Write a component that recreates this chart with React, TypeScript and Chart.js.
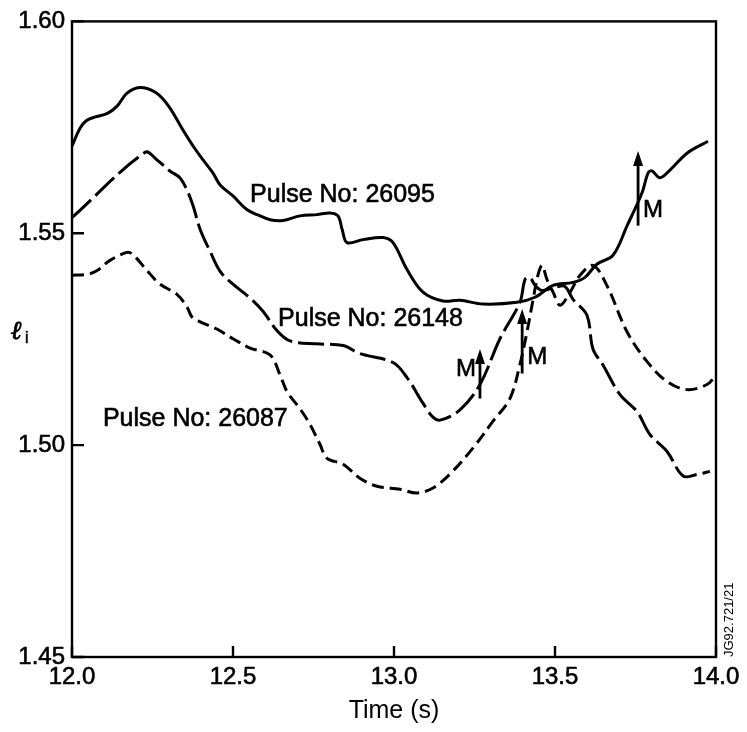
import React, { useEffect, useRef } from "react";
import { Chart, registerables } from "chart.js";

Chart.register(...registerables);

// Internal inductance traces, one pair of arrays per pulse (time in s, value)
const pulse26095Time = [
  12.0, 12.025, 12.045, 12.07, 12.11, 12.14, 12.17, 12.21, 12.26, 12.3, 12.345,
  12.376, 12.407, 12.438, 12.46, 12.5, 12.543, 12.575, 12.615, 12.655, 12.708,
  12.761, 12.801, 12.826, 12.839, 12.854, 12.904, 12.966, 12.997, 13.04, 13.09,
  13.152, 13.205, 13.276, 13.382, 13.438, 13.494, 13.556, 13.593, 13.63, 13.68,
  13.724, 13.77, 13.789, 13.801, 13.826, 13.857, 13.91, 13.975,
];
const pulse26095Li = [
  1.5706, 1.5748, 1.5766, 1.5774, 1.5783, 1.5800, 1.5830, 1.5844, 1.5832, 1.5800,
  1.5743, 1.5706, 1.5673, 1.5642, 1.5614, 1.5588, 1.5556, 1.5544, 1.5532, 1.5530,
  1.5541, 1.5544, 1.5548, 1.5541, 1.5509, 1.5478, 1.5485, 1.5490, 1.5478, 1.5415,
  1.5361, 1.5340, 1.5342, 1.5333, 1.5337, 1.5349, 1.5377, 1.5384, 1.5396, 1.5427,
  1.5448, 1.5518, 1.5595, 1.5642, 1.5647, 1.5631, 1.5649, 1.5689, 1.5717,
];

const pulse26148Time = [
  12.0, 12.227, 12.264, 12.304, 12.335, 12.357, 12.376, 12.398, 12.429, 12.46,
  12.5, 12.553, 12.593, 12.637, 12.677, 12.761, 12.842, 12.894, 12.997, 13.04,
  13.09, 13.121, 13.143, 13.205, 13.267, 13.329, 13.391, 13.407, 13.422, 13.438,
  13.46, 13.5, 13.53, 13.556, 13.599, 13.618, 13.649, 13.702, 13.755, 13.795,
  13.848, 13.898, 13.941, 13.981,
];
const pulse26148Li = [
  1.5537, 1.5691, 1.5673, 1.5647, 1.5631, 1.5602, 1.5565, 1.5509, 1.5457, 1.5410,
  1.5380, 1.5347, 1.5316, 1.5270, 1.5246, 1.5239, 1.5235, 1.5216, 1.5195, 1.5160,
  1.5099, 1.5066, 1.5059, 1.5083, 1.5143, 1.5251, 1.5337, 1.5391, 1.5396, 1.5377,
  1.5365, 1.5372, 1.5375, 1.5344, 1.5307, 1.5227, 1.5189, 1.5119, 1.5079, 1.5025,
  1.4985, 1.4927, 1.4931, 1.4938,
];

const pulse26087Time = [
  12.0, 12.047, 12.078, 12.118, 12.171, 12.189, 12.233, 12.273, 12.326, 12.357,
  12.373, 12.398, 12.45, 12.5, 12.553, 12.615, 12.646, 12.668, 12.708, 12.739,
  12.77, 12.792, 12.842, 12.894, 12.947, 13.019, 13.071, 13.121, 13.174, 13.245,
  13.307, 13.36, 13.391, 13.413, 13.432, 13.447, 13.46, 13.475, 13.494, 13.516,
  13.547, 13.578, 13.618, 13.661, 13.724, 13.786, 13.848, 13.91, 13.972, 14.0,
];
const pulse26087Li = [
  1.5401, 1.5403, 1.5412, 1.5436, 1.5455, 1.5450, 1.5412, 1.5380, 1.5356, 1.5326,
  1.5302, 1.5291, 1.5274, 1.5251, 1.5229, 1.5213, 1.5166, 1.5126, 1.5086, 1.5049,
  1.5002, 1.4969, 1.4955, 1.4922, 1.4903, 1.4896, 1.4887, 1.4899, 1.4932, 1.4993,
  1.5056, 1.5110, 1.5190, 1.5267, 1.5344, 1.5401, 1.5424, 1.5391, 1.5361, 1.5330,
  1.5361, 1.5401, 1.5424, 1.5377, 1.5267, 1.5197, 1.5150, 1.5131, 1.5143, 1.5166,
];

const xTickValues = [12.0, 12.5, 13.0, 13.5, 14.0];
const yTickValues = [1.45, 1.5, 1.55, 1.6];

// Curve captions: text, anchor time, anchor value (left edge, vertical middle)
const captionText = ["Pulse No: 26095", "Pulse No: 26148", "Pulse No: 26087"];
const captionTime = [12.553, 12.64, 12.096];
const captionLi = [1.5591, 1.5297, 1.5061];

// "M" event arrows: time, tail value, head value, letter height and side
const markTime = [13.267, 13.398, 13.758];
const markFrom = [1.511, 1.5169, 1.5518];
const markTo = [1.5227, 1.5321, 1.5694];
const markLabelLi = [1.5178, 1.5208, 1.5555];
const markSide = ["left", "right", "right"];

const FONT = '"Liberation Sans", Arial, Helvetica, sans-serif';

const toPoints = (t: number[], v: number[]) => t.map((x, i) => ({ x, y: v[i] }));

// Text drawn with a thin outline to get the heavier print weight
function heavyText(ctx: CanvasRenderingContext2D, s: string, px: number, py: number) {
  ctx.fillText(s, px, py);
  ctx.strokeText(s, px, py);
}

const decorations = {
  id: "decorations",
  afterDatasetsDraw(chart: any) {
    const { ctx, chartArea: a, scales } = chart;
    const x = scales.x;
    const y = scales.y;
    ctx.save();
    ctx.strokeStyle = "#000";
    ctx.fillStyle = "#000";

    // frame
    ctx.lineWidth = 2.4;
    ctx.strokeRect(a.left, a.top, a.right - a.left, a.bottom - a.top);

    // inward tick marks
    ctx.beginPath();
    for (const v of yTickValues) {
      const py = y.getPixelForValue(v);
      ctx.moveTo(a.left, py);
      ctx.lineTo(a.left + 12, py);
    }
    for (const v of xTickValues) {
      const px = x.getPixelForValue(v);
      ctx.moveTo(px, a.bottom);
      ctx.lineTo(px, a.bottom - 11);
    }
    ctx.stroke();

    // curve captions
    ctx.lineWidth = 0.6;
    ctx.font = `25px ${FONT}`;
    ctx.textAlign = "left";
    ctx.textBaseline = "middle";
    captionText.forEach((s, i) => {
      heavyText(ctx, s, x.getPixelForValue(captionTime[i]), y.getPixelForValue(captionLi[i]));
    });

    // M arrows
    markTime.forEach((t, i) => {
      const px = x.getPixelForValue(t);
      const y0 = y.getPixelForValue(markFrom[i]);
      const y1 = y.getPixelForValue(markTo[i]);
      ctx.lineWidth = 2.8;
      ctx.beginPath();
      ctx.moveTo(px, y0);
      ctx.lineTo(px, y1 + 10);
      ctx.stroke();
      ctx.beginPath();
      ctx.moveTo(px, y1);
      ctx.lineTo(px - 5, y1 + 15);
      ctx.lineTo(px + 5, y1 + 15);
      ctx.closePath();
      ctx.fill();
      ctx.lineWidth = 0.6;
      ctx.font = `24px ${FONT}`;
      ctx.textBaseline = "middle";
      const ly = y.getPixelForValue(markLabelLi[i]);
      if (markSide[i] === "left") {
        ctx.textAlign = "right";
        heavyText(ctx, "M", px - 4, ly);
      } else {
        ctx.textAlign = "left";
        heavyText(ctx, "M", px + 5, ly);
      }
    });

    // y-axis symbol
    ctx.textAlign = "left";
    ctx.textBaseline = "alphabetic";
    ctx.lineWidth = 0.8;
    ctx.font = `italic bold 26px "DejaVu Serif", serif`;
    heavyText(ctx, "ℓ", 11, 339);
    ctx.lineWidth = 0.5;
    ctx.font = `16px ${FONT}`;
    heavyText(ctx, "i", 25, 343);

    // figure reference, vertical
    ctx.save();
    ctx.translate(733, a.bottom);
    ctx.rotate(-Math.PI / 2);
    ctx.font = `13px ${FONT}`;
    ctx.textAlign = "left";
    ctx.textBaseline = "alphabetic";
    ctx.fillText("JG92.721/21", 0, 0);
    ctx.restore();

    ctx.restore();
  },
};

export default function App() {
  const canvasRef = useRef<HTMLCanvasElement | null>(null);

  useEffect(() => {
    const canvas = canvasRef.current;
    if (!canvas) return;
    const lineBase = {
      borderColor: "#000",
      borderWidth: 3,
      pointRadius: 0,
      fill: false,
      tension: 0.35,
    };
    const tickFont = { family: FONT, size: 24 };
    const chart = new Chart(canvas, {
      type: "line",
      data: {
        datasets: [
          { ...lineBase, label: "26095", data: toPoints(pulse26095Time, pulse26095Li) },
          {
            ...lineBase,
            label: "26148",
            borderDash: [26, 6],
            data: toPoints(pulse26148Time, pulse26148Li),
          },
          {
            ...lineBase,
            label: "26087",
            borderDash: [12, 6],
            data: toPoints(pulse26087Time, pulse26087Li),
          },
        ],
      },
      options: {
        animation: false,
        responsive: false,
        devicePixelRatio: 1,
        layout: { padding: { left: 0, top: 17.5, right: 31, bottom: 0 } },
        plugins: { legend: { display: false }, tooltip: { enabled: false } },
        scales: {
          x: {
            type: "linear",
            min: 12,
            max: 14,
            grid: { display: false, drawTicks: false },
            border: { display: false },
            afterBuildTicks: (s: any) => {
              s.ticks = xTickValues.map((value) => ({ value }));
            },
            afterFit: (s: any) => {
              s.height = 75;
            },
            ticks: {
              color: "#000",
              textStrokeColor: "#000",
              textStrokeWidth: 0.6,
              padding: 6,
              maxRotation: 0,
              font: tickFont,
              callback: (v: any) => Number(v).toFixed(1),
            },
            title: {
              display: true,
              text: "Time (s)",
              color: "#000",
              font: { family: FONT, size: 25 },
              padding: { top: 0, bottom: 6 },
            },
          },
          y: {
            type: "linear",
            min: 1.45,
            max: 1.6,
            grid: { display: false, drawTicks: false },
            border: { display: false },
            afterBuildTicks: (s: any) => {
              s.ticks = yTickValues.map((value) => ({ value }));
            },
            afterFit: (s: any) => {
              s.width = 72;
            },
            ticks: {
              color: "#000",
              textStrokeColor: "#000",
              textStrokeWidth: 0.6,
              padding: 7,
              font: tickFont,
              callback: (v: any) => Number(v).toFixed(2),
            },
          },
        },
      },
      plugins: [decorations],
    });
    return () => chart.destroy();
  }, []);

  return (
    <div style={{ position: "fixed", left: 0, top: 0, width: 747, height: 732, background: "#fff" }}>
      <canvas ref={canvasRef} width={747} height={732} style={{ width: 747, height: 732 }} />
    </div>
  );
}
